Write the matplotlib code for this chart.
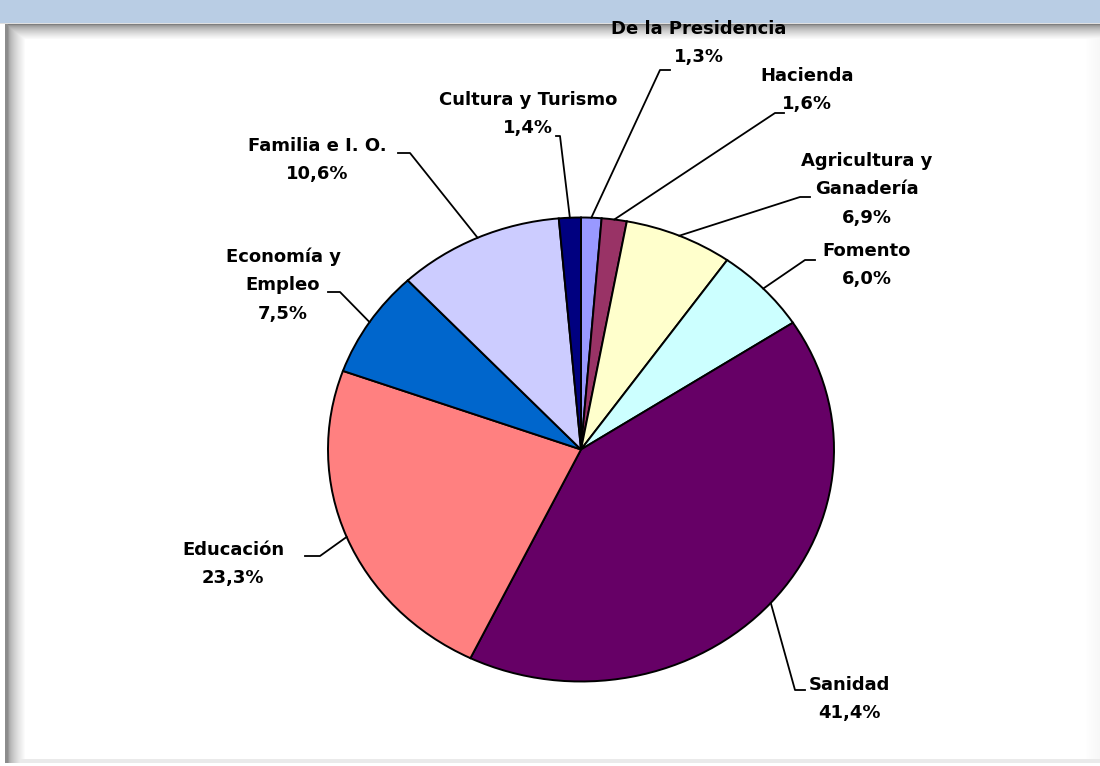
import numpy as np
import matplotlib
matplotlib.use("Agg")
import matplotlib.pyplot as plt

# ---- data ----
categories = ["De la Presidencia", "Hacienda", "Agricultura y\nGanadería", "Fomento",
              "Sanidad", "Educación", "Economía y\nEmpleo", "Familia e I. O.", "Cultura y Turismo"]
values = [1.3, 1.6, 6.9, 6.0, 41.4, 23.3, 7.5, 10.6, 1.4]
value_labels = ["1,3%", "1,6%", "6,9%", "6,0%", "41,4%", "23,3%", "7,5%", "10,6%", "1,4%"]
colors = ["#9999FF", "#993366", "#FFFFCC", "#CCFFFF", "#660066",
          "#FF8080", "#0066CC", "#CCCCFF", "#000080"]

# ---- layout (pixel positions of labels, from top-left) ----
label_pos = [(699, 43), (807, 90), (867, 189), (867, 265), (849, 699),
             (233, 564), (283, 285), (317, 160), (528, 114)]
elbows = [(660, 70), (775, 113), (800, 197), (805, 260), (795, 690),
          (320, 556), (340, 292), (410, 153), (560, 136)]
ends = [(670, 70), (784, 113), (810, 197), (815, 260), (805, 690),
        (305, 556), (328, 292), (398, 153), (556, 136)]

W, H = 1100, 766
fig = plt.figure(figsize=(W / 100, H / 100), dpi=100)

# background frame image
img = np.ones((H, W, 3))
img[0:23, :, :] = np.array([185, 205, 228]) / 255.0
img[23, :, :] = 0.88
for i in range(24, 40):
    g = 0.5 + (1 - 0.5) * ((i - 24) / 15.0) ** 0.6
    img[i, 6:, :] = np.minimum(img[i, 6:, :], g)
img[24:, 0:5, :] = 1.0
img[24:, 5:8, :] = 0.55
for j in range(8, 26):
    g = 0.6 + (1 - 0.6) * ((j - 8) / 17.0) ** 0.6
    img[24:, j, :] = np.minimum(img[24:, j, :], g)
img[759:763, 8:, :] = np.minimum(img[759:763, 8:, :], 0.92)
img[763:, :, :] = 1.0
for j in range(1085, W):
    g = 1 - 0.03 * (j - 1085) / 15.0
    img[24:763, j, :] = np.minimum(img[24:763, j, :], g)

bg = fig.add_axes([0, 0, 1, 1])
bg.imshow(img, extent=(0, W, H, 0), aspect="auto", interpolation="nearest")
bg.set_xlim(0, W)
bg.set_ylim(H, 0)
bg.axis("off")

# pie axes (ellipse: rx=253, ry=232 pixels)
cx, cy, rx, ry = 581, 449.5, 253, 232
pax = fig.add_axes([(cx - rx) / W, (H - cy - ry) / H, 2 * rx / W, 2 * ry / H])
wedges, _ = pax.pie(values, colors=colors, startangle=90, counterclock=False,
                    wedgeprops=dict(edgecolor="black", linewidth=1.4))
pax.set_aspect("auto")
pax.set_xlim(-1, 1)
pax.set_ylim(-1, 1)
pax.axis("off")

# overlay for labels and leader lines
ov = fig.add_axes([0, 0, 1, 1], facecolor="none")
ov.set_xlim(0, W)
ov.set_ylim(H, 0)
ov.axis("off")

total = sum(values)
cum = 0
for i, v in enumerate(values):
    mid = 90 - (cum + v / 2) / total * 360
    cum += v
    x0 = cx + rx * np.cos(np.radians(mid))
    y0 = cy - ry * np.sin(np.radians(mid))
    ex, ey = elbows[i]
    fx, fy = ends[i]
    ov.plot([x0, ex, fx], [y0, ey, fy], color="black", lw=1.3)
    lx, ly = label_pos[i]
    ov.text(lx, ly, categories[i] + "\n" + value_labels[i], ha="center", va="center",
            fontsize=13, fontweight="bold", family="DejaVu Sans", linespacing=1.75)

fig.savefig("out.png", dpi=100)
